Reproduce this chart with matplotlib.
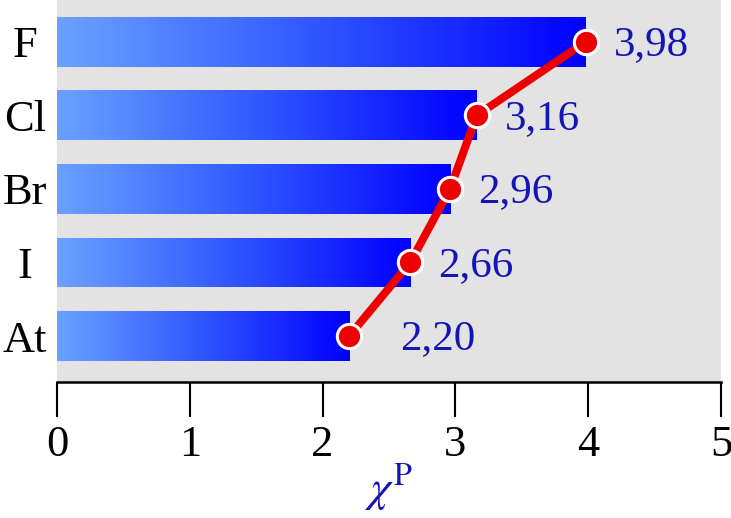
import numpy as np
import matplotlib
matplotlib.use('Agg')
import matplotlib.pyplot as plt
from matplotlib.colors import LinearSegmentedColormap

# Dados: eletronegatividade de Pauling dos halogênios
elementos = ["F", "Cl", "Br", "I", "At"]
chi_p = [3.98, 3.16, 2.96, 2.66, 2.20]
rotulos = ["3,98", "3,16", "2,96", "2,66", "2,20"]
xticks = [0, 1, 2, 3, 4, 5]

plt.rcParams['font.family'] = ['Liberation Serif', 'DejaVu Serif']
plt.rcParams['mathtext.fontset'] = 'stix'

azul_txt = '#1515b5'
grad = LinearSegmentedColormap.from_list('grad', ['#6aa2ff', '#2f55ff', '#0000ff'])

fig = plt.figure(figsize=(7.31, 5.18), dpi=100)
ax = fig.add_axes([0.078, 0.2625, 0.9083, 0.7375])
ax.set_facecolor('#e3e3e3')

y = np.arange(len(elementos))
altura = 0.68
barras = ax.barh(y, chi_p, height=altura, color='none', edgecolor='none')

# gradiente horizontal em cada barra
g = np.linspace(0, 1, 256).reshape(1, -1)
for b, v, yi in zip(barras, chi_p, y):
    im = ax.imshow(g, cmap=grad, aspect='auto',
                   extent=(0, v, yi + altura / 2, yi - altura / 2), zorder=2)
    im.set_clip_path(b)

# linha vermelha ligando as pontas
ax.plot(chi_p, y, color='#ee0000', lw=5.8, zorder=3, solid_capstyle='round',
        marker='o', markersize=17.5, markerfacecolor='#ee0000',
        markeredgecolor='white', markeredgewidth=2.2)

# rótulos dos valores
for i, (v, r) in enumerate(zip(chi_p, rotulos)):
    dx = 0.38 if i == len(chi_p) - 1 else 0.21
    ax.text(v + dx, y[i] + 0.04, r, color=azul_txt, fontsize=31,
            va='center', ha='left', zorder=4)

ax.set_xlim(0, 5)
ax.set_ylim(4.626, -0.571)
ax.set_yticks(y)
ax.set_yticklabels(elementos, fontsize=32, ha='center')
ax.tick_params(axis='y', length=0, pad=23)
ax.set_xticks(xticks)
ax.set_xticklabels([str(t) for t in xticks], fontsize=32)
ax.tick_params(axis='x', direction='out', length=25, width=1.5, pad=6)

for s in ['top', 'right', 'left']:
    ax.spines[s].set_visible(False)
ax.spines['bottom'].set_linewidth(1.8)

ax.set_xlabel(r'$\chi^{\mathrm{P}}$', color=azul_txt, fontsize=33, labelpad=-3)

fig.savefig('out.png', dpi=100)
